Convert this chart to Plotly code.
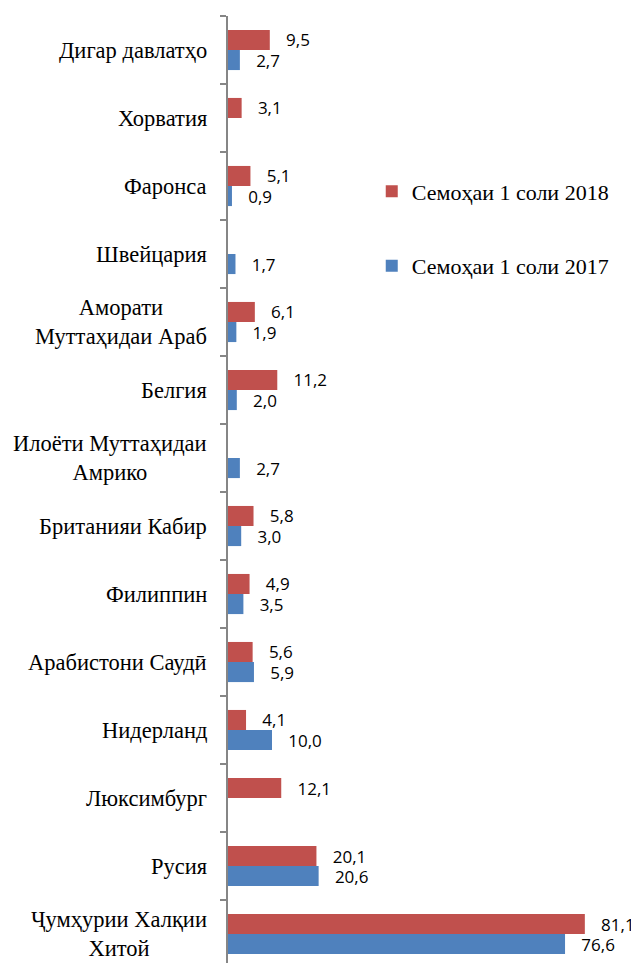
import plotly.graph_objects as go

# Categories listed bottom-to-top
categories = [
    "Ҷумҳурии Халқии<br>Хитой",
    "Русия",
    "Люксимбург",
    "Нидерланд",
    "Арабистони Саудӣ",
    "Филиппин",
    "Британияи Кабир",
    "Илоёти Муттаҳидаи<br>Амрико",
    "Белгия",
    "Аморати<br>Муттаҳидаи Араб",
    "Швейцария",
    "Фаронса",
    "Хорватия",
    "Дигар давлатҳо",
]
values_2018 = [81.1, 20.1, 12.1, 4.1, 5.6, 4.9, 5.8, None, 11.2, 6.1, None, 5.1, 3.1, 9.5]
values_2017 = [76.6, 20.6, None, 10.0, 5.9, 3.5, 3.0, 2.7, 2.0, 1.9, 1.7, 0.9, None, 2.7]
name_2018 = "Семоҳаи 1 соли 2018"
name_2017 = "Семоҳаи 1 соли 2017"

RED = "#C0504D"
BLUE = "#4F81BD"
NB = "\u00a0"
SERIF = "Liberation Serif, Times New Roman, serif"


def fmt(v):
    if v is None:
        return ""
    return NB * 3 + f"{v:.1f}".replace(".", ",")


fig = go.Figure()
fig.add_trace(go.Bar(
    y=categories, x=values_2017, orientation="h", name=name_2017,
    marker=dict(color=BLUE, line=dict(width=0)),
    text=[fmt(v) for v in values_2017], textposition="outside",
    constraintext="none", cliponaxis=False,
    textfont=dict(family="Open Sans", size=17, color="#000"),
    legendgroup="a", legendrank=2,
))
fig.add_trace(go.Bar(
    y=categories, x=values_2018, orientation="h", name=name_2018,
    marker=dict(color=RED, line=dict(width=0)),
    text=[fmt(v) for v in values_2018], textposition="outside",
    constraintext="none", cliponaxis=False,
    textfont=dict(family="Open Sans", size=17, color="#000"),
    legendgroup="b", legendrank=1,
))

annotations = []
for c in categories:
    annotations.append(dict(
        xref="paper", yref="y", x=0, y=c, text=c, showarrow=False,
        xanchor="right", yanchor="middle", align="center", xshift=-19,
        font=dict(family=SERIF, size=22.5, color="#000"),
    ))

fig.update_layout(
    width=639, height=963,
    margin=dict(l=220, r=23, t=8, b=8, autoexpand=False),
    paper_bgcolor="white", plot_bgcolor="white",
    barmode="group", bargap=0.41, bargroupgap=0,
    showlegend=True,
    legend=dict(
        traceorder="grouped", tracegroupgap=43,
        xref="paper", yref="paper",
        x=0.363, y=0.837, xanchor="left", yanchor="top",
        font=dict(family=SERIF, size=22, color="#000"),
        bgcolor="rgba(0,0,0,0)",
    ),
    xaxis=dict(range=[0, 90], showgrid=False, zeroline=False,
               showticklabels=False, showline=False, ticks=""),
    yaxis=dict(
        type="category", categoryorder="array", categoryarray=categories,
        range=[-0.426, 13.5], showgrid=False, zeroline=False,
        showticklabels=False, showline=True, linecolor="#868686", linewidth=2,
        ticks="outside", tickson="boundaries", ticklen=6, tickcolor="#868686",
        tickwidth=2,
    ),
    annotations=annotations,
)

fig.write_html("out.html")
